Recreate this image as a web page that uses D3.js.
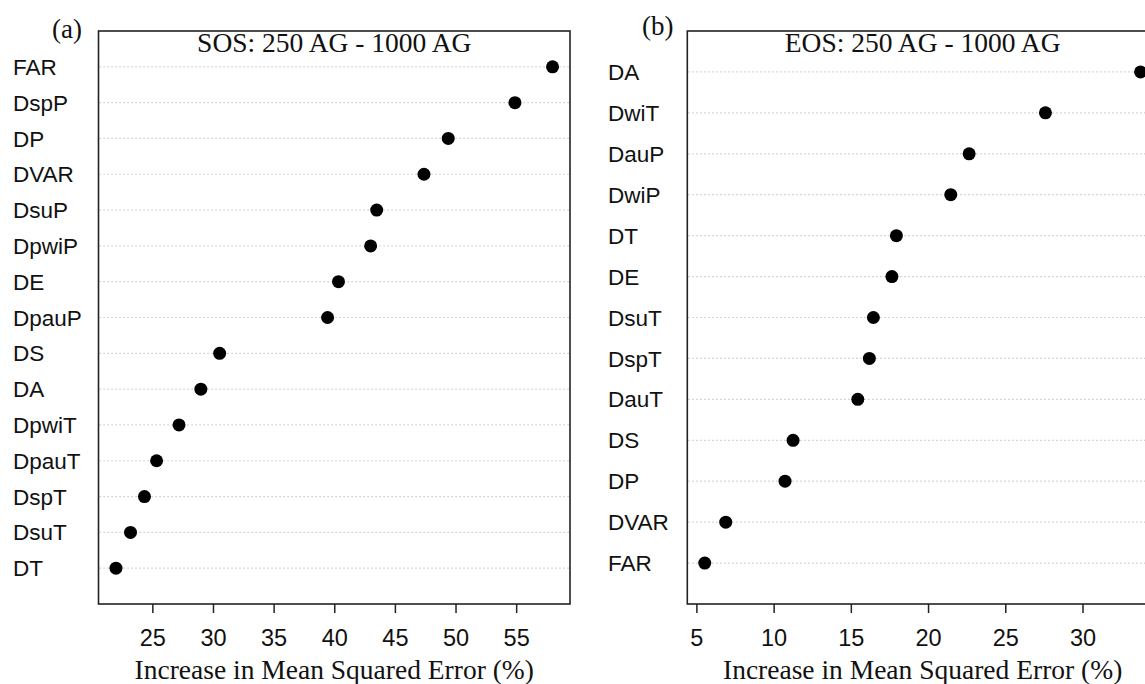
<!DOCTYPE html>
<html>
<head>
<meta charset="utf-8">
<script src="https://cdn.jsdelivr.net/npm/d3@7"></script>
<style>
  body { margin: 0; background: #fff; }
  svg { display: block; }
</style>
</head>
<body>
<svg width="1145" height="684"></svg>
<script>
// variable importance, listed top to bottom as in the figure
var sosVars = ["FAR", "DspP", "DP", "DVAR", "DsuP", "DpwiP", "DE", "DpauP",
               "DS", "DA", "DpwiT", "DpauT", "DspT", "DsuT", "DT"];
var sosVals = [58.0, 54.9, 49.4, 47.4, 43.5, 43.0, 40.35, 39.45,
               30.55, 29.0, 27.2, 25.35, 24.35, 23.2, 22.0];
var sosTicks = [25, 30, 35, 40, 45, 50, 55];

var eosVars = ["DA", "DwiT", "DauP", "DwiP", "DT", "DE", "DsuT", "DspT",
               "DauT", "DS", "DP", "DVAR", "FAR"];
var eosVals = [33.76, 27.6, 22.66, 21.47, 17.95, 17.66, 16.46, 16.2,
               15.45, 11.26, 10.74, 6.9, 5.54];
var eosTicks = [5, 10, 15, 20, 25, 30];

var xTitle = "Increase in Mean Squared Error (%)";

var svg = d3.select("svg");
var serif = "'Liberation Serif', 'Times New Roman', serif";
var sans = "'Liberation Sans', Arial, Helvetica, sans-serif";

var plotTop = 31, plotBottom = 604;

draw_panel({
    vars: sosVars, vals: sosVals, ticks: sosTicks,
    title: "SOS: 250 AG - 1000 AG", tag: "(a)",
    left: 98.5, right: 570, labelX: 13, tagX: 52, tagY: 38
});
draw_panel({
    vars: eosVars, vals: eosVals, ticks: eosTicks,
    title: "EOS: 250 AG - 1000 AG", tag: "(b)",
    left: 687.3, right: 1158, labelX: 608, tagX: 642, tagY: 35
});

function draw_panel(p) {
    var n = p.vars.length;
    var lo = d3.min(p.vals), hi = d3.max(p.vals);
    var pad = (hi - lo) * 0.04;   // R style axis extension

    var x = d3.scaleLinear().domain([lo - pad, hi + pad]).range([p.left, p.right]);
    // first item on top, dotchart puts it at position n
    var y = d3.scaleLinear().domain([0, n + 1]).range([plotBottom, plotTop]);
    var pos = function(i) { return y(n - i); };

    var g = svg.append("g");

    // dotted guide lines
    g.selectAll("line.guide")
        .data(p.vars)
        .enter().append("line")
        .attr("class", "guide")
        .attr("x1", p.left + 1)
        .attr("x2", p.right - 1)
        .attr("y1", function(d, i) { return pos(i); })
        .attr("y2", function(d, i) { return pos(i); })
        .attr("stroke", "#bdbdbd")
        .attr("stroke-width", 1.2)
        .attr("stroke-dasharray", "1.2,2.8");

    // points
    g.selectAll("circle")
        .data(p.vals)
        .enter().append("circle")
        .attr("cx", function(d) { return x(d); })
        .attr("cy", function(d, i) { return pos(i); })
        .attr("r", 6.5)
        .attr("fill", "#000");

    // box
    g.append("rect")
        .attr("x", p.left)
        .attr("y", plotTop)
        .attr("width", p.right - p.left)
        .attr("height", plotBottom - plotTop)
        .attr("fill", "none")
        .attr("stroke", "#222")
        .attr("stroke-width", 1.6);

    // row labels
    g.selectAll("text.lab")
        .data(p.vars)
        .enter().append("text")
        .attr("class", "lab")
        .attr("x", p.labelX)
        .attr("y", function(d, i) { return pos(i); })
        .attr("dy", "0.36em")
        .attr("font-family", sans)
        .attr("font-size", 22.5)
        .attr("fill", "#111")
        .text(function(d) { return d; });

    // x axis
    var ax = g.append("g")
        .attr("transform", "translate(0," + plotBottom + ")")
        .call(d3.axisBottom(x).tickValues(p.ticks).tickSize(9).tickFormat(d3.format("d")));
    ax.select(".domain").remove();
    ax.selectAll(".tick line").attr("stroke", "#222").attr("stroke-width", 1.5);
    ax.selectAll(".tick text")
        .attr("y", 41.5)
        .attr("dy", null)
        .attr("font-family", sans)
        .attr("font-size", 23.5)
        .attr("fill", "#111");

    // titles
    g.append("text")
        .attr("x", (p.left + p.right) / 2)
        .attr("y", 52)
        .attr("text-anchor", "middle")
        .attr("font-family", serif)
        .attr("font-size", 27.5)
        .attr("fill", "#111")
        .text(p.title);

    g.append("text")
        .attr("x", (p.left + p.right) / 2)
        .attr("y", 679)
        .attr("text-anchor", "middle")
        .attr("font-family", serif)
        .attr("font-size", 27.5)
        .attr("fill", "#111")
        .text(xTitle);

    g.append("text")
        .attr("x", p.tagX)
        .attr("y", p.tagY)
        .attr("font-family", serif)
        .attr("font-size", 27)
        .attr("fill", "#111")
        .text(p.tag);
}
</script>
</body>
</html>
